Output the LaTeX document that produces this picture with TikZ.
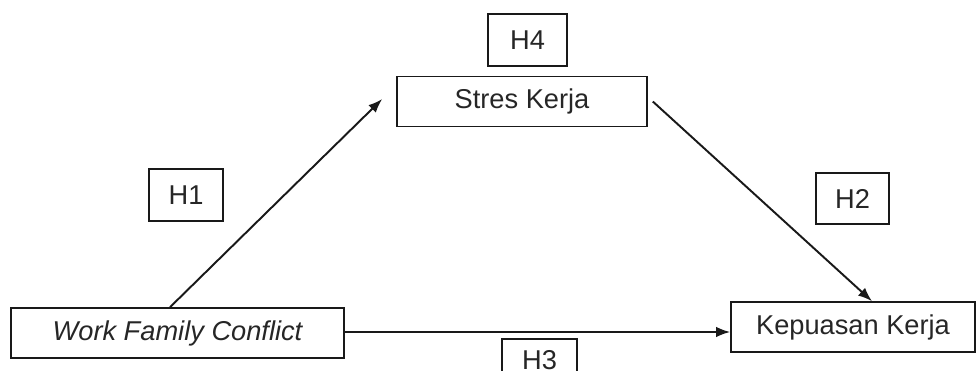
\documentclass[tikz,border=0pt]{standalone}
\usepackage{fontspec}
\setmainfont{Liberation Sans}
\usepackage{tikz}
\usetikzlibrary{arrows.meta,positioning,calc}

\begin{document}
\begin{tikzpicture}[
  varbox/.style={
    rectangle, draw=black!90, line width=0.9pt,
    minimum height=1.0cm,
    font=\fontsize{15.5}{18}\selectfont,
    text=black!85,
    inner sep=0pt
  },
  hypbox/.style={
    rectangle, draw=black!90, line width=0.9pt,
    minimum width=1.5cm, minimum height=1.03cm,
    font=\fontsize{15.5}{18}\selectfont,
    text=black!85,
    inner sep=0pt
  },
  conn/.style={-{Latex[length=8pt,width=6pt]}, line width=1.1pt, draw=black!90}
]
\useasboundingbox (0,0) rectangle (19.54,7.42);

\node[varbox, minimum width=6.66cm] (wfc)   at (3.55,0.76)  {\itshape Work Family Conflict};
\node[varbox, minimum width=5.0cm]  (stres) at (10.44,5.39) {Stres Kerja};
\node[varbox, minimum width=4.88cm] (kep)   at (17.06,0.88) {Kepuasan Kerja};

\node[hypbox, minimum width=1.58cm] (h4) at (10.55,6.62) {H4};
\node[hypbox, minimum width=1.48cm] (h1) at (3.72,3.52)  {H1};
\node[hypbox, minimum width=1.46cm] (h2) at (17.05,3.45) {H2};
\node[hypbox, minimum height=0.84cm] (h3) at (10.79,0.22) {H3};

\draw[conn] ([xshift=-0.15cm]wfc.north) -- ([xshift=-0.28cm,yshift=0.05cm]stres.west);
\draw[conn] ([xshift=0.1cm]stres.east) -- ([xshift=0.38cm]kep.north);
\draw[conn] ([yshift=0.02cm]wfc.east) -- ([yshift=0.02cm]wfc.east -| kep.west);
\end{tikzpicture}
\end{document}
